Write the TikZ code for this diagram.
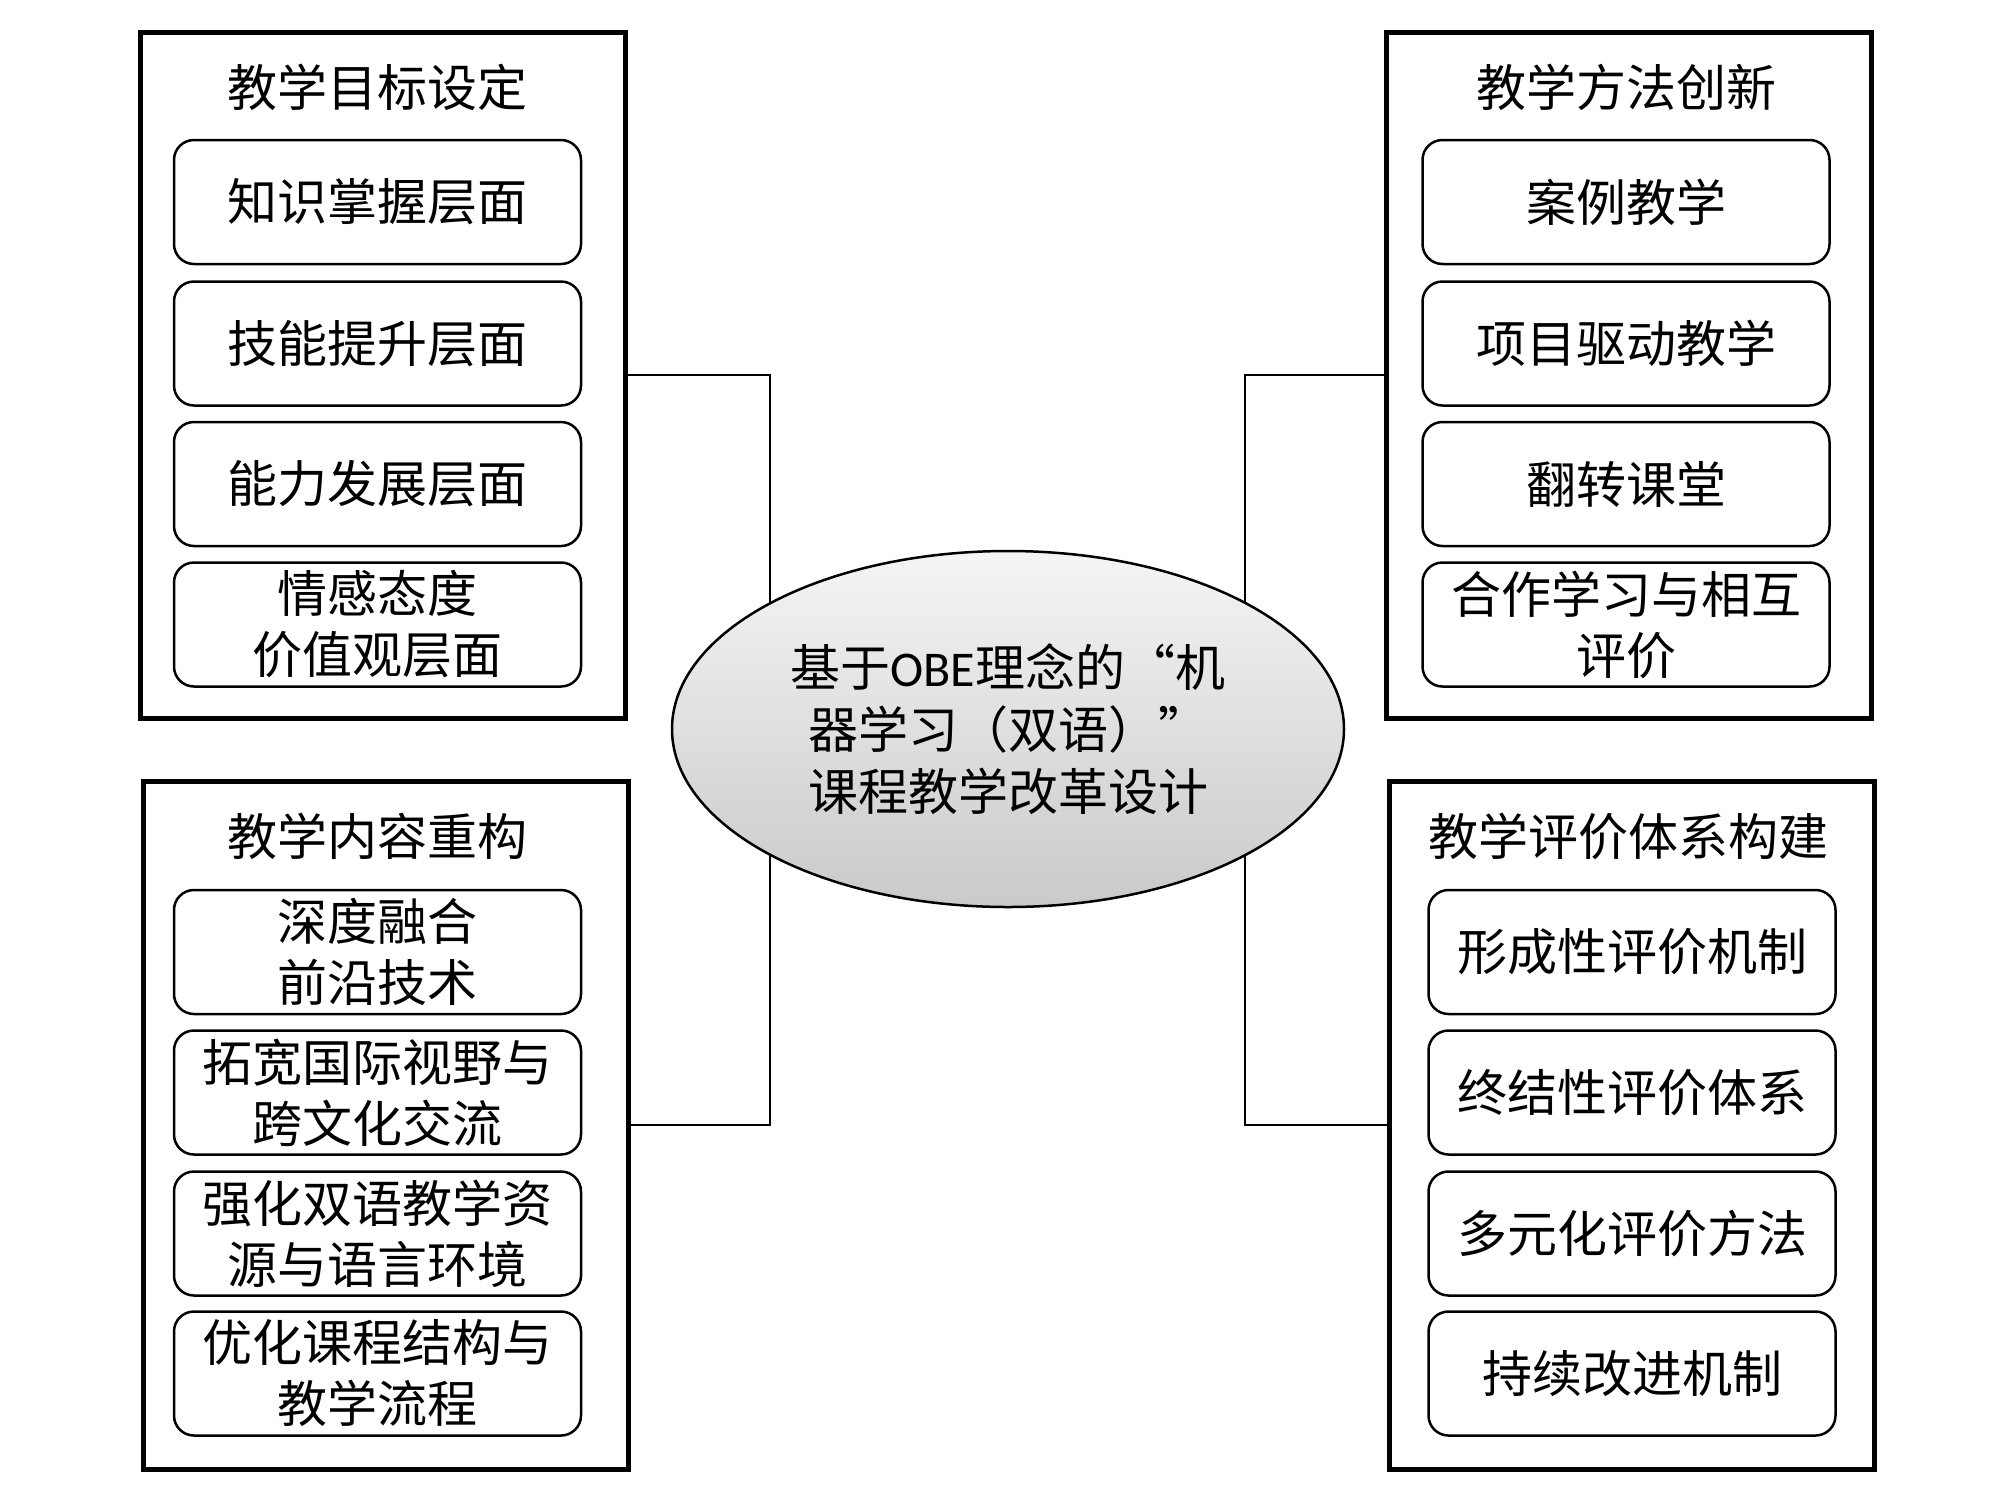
\documentclass[tikz,border=0pt]{standalone}
\usepackage{fontspec}
\setmainfont{Noto Sans CJK SC}
\newfontfamily\latfont{Carlito}
\usetikzlibrary{shapes.geometric}
\begin{document}
\begin{tikzpicture}[x=1pt,y=-1pt,
  outerbox/.style={draw, line width=5pt, minimum width=485pt, minimum height=686pt, inner sep=0pt},
  itembox/.style={draw, line width=2.5pt, rounded corners=20pt, minimum width=407pt, minimum height=124pt,
    inner sep=0pt, align=center, font=\fontsize{50}{61}\selectfont},
  titletext/.style={inner sep=0pt, font=\fontsize{50}{61}\selectfont},
  link/.style={line width=2.5pt},
  centre/.style={ellipse, draw, line width=2.5pt, top color=gray!8, bottom color=gray!42,
    minimum width=672pt, minimum height=356pt, inner sep=0pt, align=center,
    font=\fontsize{50}{62}\selectfont}]
\useasboundingbox[fill=white] (0,0) rectangle (2000,1500);

% outer frames
\node[outerbox] (tl) at (382.5,375) {};
\node[outerbox] (tr) at (1629,375) {};
\node[outerbox, minimum height=688pt] (bl) at (385.5,1125) {};
\node[outerbox, minimum height=688pt] (br) at (1632,1125) {};

% titles
\node[titletext] (tlt) at (377.5,87) {教学目标设定};
\node[titletext] (trt) at (1626,87) {教学方法创新};
\node[titletext] (blt) at (377.5,836) {教学内容重构};
\node[titletext] (brt) at (1628,836) {教学评价体系构建};

% top-left items
\node[itembox] (tl1) at (377.5,202) {知识掌握层面};
\node[itembox] (tl2) at (377.5,343.5) {技能提升层面};
\node[itembox] (tl3) at (377.5,484) {能力发展层面};
\node[itembox] (tl4) at (377.5,624.5) {情感态度\\价值观层面};

% top-right items
\node[itembox] (tr1) at (1626,202) {案例教学};
\node[itembox] (tr2) at (1626,343.5) {项目驱动教学};
\node[itembox] (tr3) at (1626,484) {翻转课堂};
\node[itembox] (tr4) at (1626,624.5) {合作学习与相互\\评价};

% bottom-left items
\node[itembox] (bl1) at (377.5,952) {深度融合\\前沿技术};
\node[itembox] (bl2) at (377.5,1092.5) {拓宽国际视野与\\跨文化交流};
\node[itembox] (bl3) at (377.5,1233.5) {强化双语教学资\\源与语言环境};
\node[itembox] (bl4) at (377.5,1373.5) {优化课程结构与\\教学流程};

% bottom-right items
\node[itembox] (br1) at (1632,952) {形成性评价机制};
\node[itembox] (br2) at (1632,1092.5) {终结性评价体系};
\node[itembox] (br3) at (1632,1233.5) {多元化评价方法};
\node[itembox] (br4) at (1632,1373.5) {持续改进机制};

% connectors (ends hidden under the ellipse)
\coordinate (jl) at (770,729);
\coordinate (jr) at (1245,729);
\draw[link] (tl.east) -| (jl);
\draw[link] (bl.east) -| (jl);
\draw[link] (tr.west) -| (jr);
\draw[link] (br.west) -| (jr);

% centre
\node[centre] (c) at (1008,729) {基于{\latfont OBE}理念的“机\\器学习（双语）”\\课程教学改革设计};
\end{tikzpicture}
\end{document}
